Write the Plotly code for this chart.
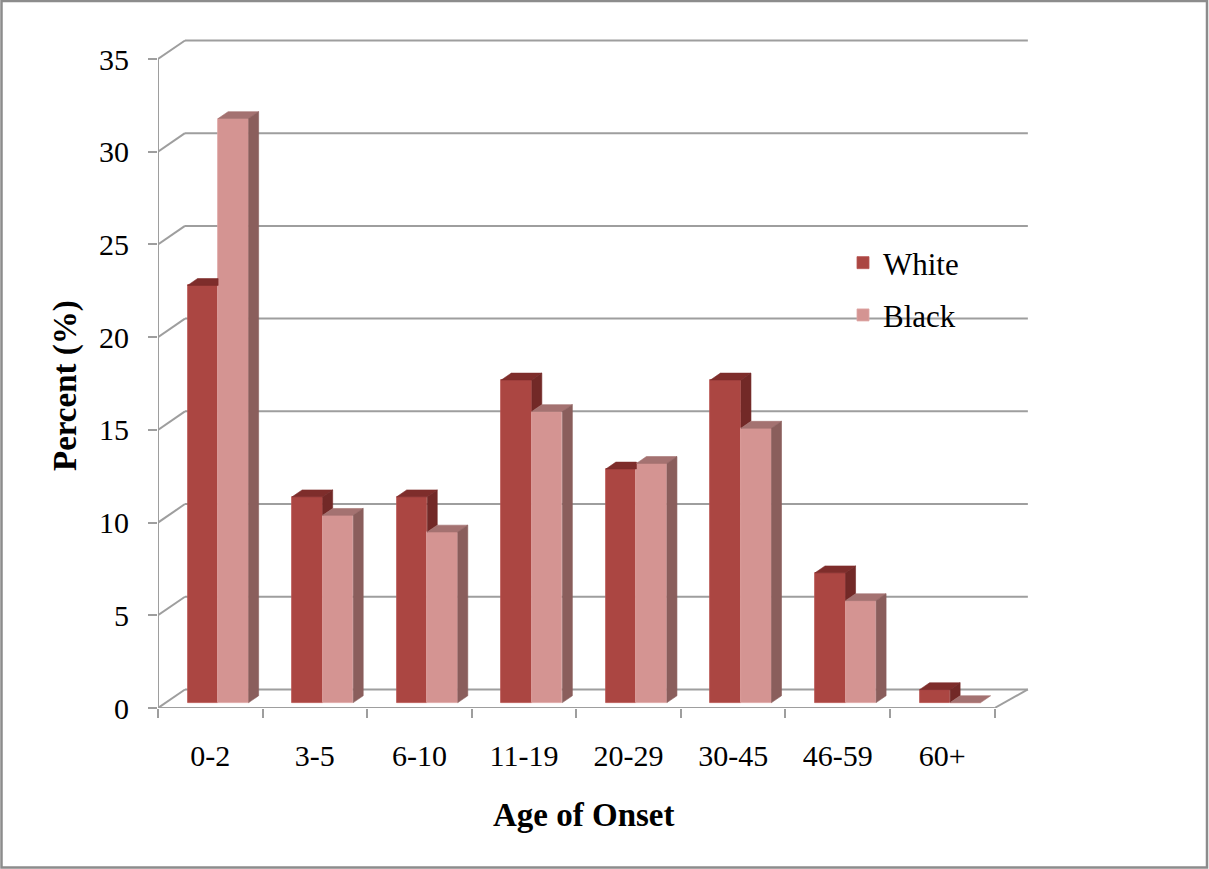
import plotly.graph_objects as go

# Age-of-onset distribution (%) by race
categories = ["0-2", "3-5", "6-10", "11-19", "20-29", "30-45", "46-59", "60+"]
white = [22.5, 11.1, 11.1, 17.4, 12.6, 17.4, 7.0, 0.7]
black = [31.5, 10.1, 9.2, 15.7, 12.9, 14.8, 5.5, 0.0]
y_ticks = [0, 5, 10, 15, 20, 25, 30, 35]

# pseudo-3D projection: how far the back wall is shifted (data units)
DX, DY = 0.258, 1.0
DX_RIGHT = 0.318             # perspective: right end recedes a little more
D0, D1 = 0.29, 0.66          # front / back depth of the bars
BW = 0.292                   # bar width
BD = D1 - D0
N = len(categories)

WHITE_FRONT, WHITE_TOP, WHITE_SIDE = "#AB4642", "#7E2D2B", "#722927"
BLACK_FRONT, BLACK_TOP, BLACK_SIDE = "#D49492", "#A47271", "#8A5E5C"
GRID = "#9E9E9E"
FONT = "Liberation Serif"

# pixel layout of the plotting area
PX_L, PX_R, PX_T, PX_B = 158, 1031, 37, 708
X_MAX = 8.0 + DX + 0.09
Y_MAX = (PX_B - PX_T) / ((PX_B - 59) / 35.0)


def px_x(p):
    return (p - PX_L) / (PX_R - PX_L)


def px_y(p):
    return (PX_B - p) / (PX_B - PX_T)


fig = go.Figure()

# front faces of the bars
fig.add_trace(go.Bar(
    name="White", x=[i + 0.5 - BW / 2 + D0 * DX for i in range(N)], y=white,
    base=D0 * DY, width=BW, marker=dict(color=WHITE_FRONT, line=dict(width=0.8, color="#B85451")),
    legendgroup="w", hoverinfo="skip"))
fig.add_trace(go.Bar(
    name="Black", x=[i + 0.5 + BW / 2 + D0 * DX for i in range(N)], y=black,
    base=D0 * DY, width=BW, marker=dict(color=BLACK_FRONT, line=dict(width=0.8, color="#DEA6A4")),
    legendgroup="b", hoverinfo="skip"))


def poly_trace(xs, ys, color):
    return go.Scatter(x=xs, y=ys, mode="lines", fill="toself", fillcolor=color,
                      line=dict(width=0.6, color=color), showlegend=False,
                      hoverinfo="skip")


# top and side faces
wt_x, wt_y, ws_x, ws_y = [], [], [], []
bt_x, bt_y, bs_x, bs_y = [], [], [], []
for i in range(N):
    vw, vb = white[i], black[i]
    base = D0 * DY
    # white bar
    xl = i + 0.5 - BW + D0 * DX
    xr = xl + BW
    yt = vw + base
    if vb > vw:
        # right part of the white top is hidden by the taller black bar
        wt_x += [xl, xr, xr, xl + BD * DX, xl, None]
        wt_y += [yt, yt, yt + BD * DY, yt + BD * DY, yt, None]
    else:
        wt_x += [xl, xr, xr + BD * DX, xl + BD * DX, xl, None]
        wt_y += [yt, yt, yt + BD * DY, yt + BD * DY, yt, None]
        lo = vb + base
        ws_x += [xr, xr, xr + BD * DX, xr + BD * DX, xr, None]
        ws_y += [lo, yt, yt + BD * DY, lo + BD * DY, lo, None]
    # black bar
    xl2 = xr
    xr2 = xl2 + BW
    yt2 = vb + base
    bt_x += [xl2, xr2, xr2 + BD * DX, xl2 + BD * DX, xl2, None]
    bt_y += [yt2, yt2, yt2 + BD * DY, yt2 + BD * DY, yt2, None]
    if vb > 0:
        bs_x += [xr2, xr2, xr2 + BD * DX, xr2 + BD * DX, xr2, None]
        bs_y += [base, yt2, yt2 + BD * DY, base + BD * DY, base, None]

fig.add_trace(poly_trace(wt_x, wt_y, WHITE_TOP))
fig.add_trace(poly_trace(ws_x, ws_y, WHITE_SIDE))
fig.add_trace(poly_trace(bt_x, bt_y, BLACK_TOP))
fig.add_trace(poly_trace(bs_x, bs_y, BLACK_SIDE))

# walls and floor
shapes = []
line = dict(color=GRID, width=2)
for v in y_ticks:
    shapes.append(dict(type="line", xref="x", yref="y", x0=0, y0=v, x1=DX, y1=v + DY,
                       line=line, layer="below"))
    shapes.append(dict(type="line", xref="x", yref="y", x0=DX, y0=v + DY, x1=N + DX_RIGHT, y1=v + DY,
                       line=line, layer="below"))
shapes.append(dict(type="line", xref="x", yref="y", x0=0, y0=0, x1=N, y1=0, line=line, layer="below"))
shapes.append(dict(type="line", xref="x", yref="y", x0=N, y0=0, x1=N + DX_RIGHT, y1=DY, line=line, layer="below"))
shapes.append(dict(type="line", xref="x", yref="y", x0=0, y0=0, x1=0, y1=y_ticks[-1], line=line, layer="below"))
# outer frame
shapes.append(dict(type="rect", xref="paper", yref="paper",
                   x0=px_x(1.5), x1=px_x(1207), y0=px_y(867.5), y1=px_y(1),
                   line=dict(color="#8C8C8C", width=2.5), layer="above"))

fig.update_layout(
    width=1209, height=869,
    margin=dict(l=PX_L, r=1209 - PX_R, t=PX_T, b=869 - PX_B),
    paper_bgcolor="white", plot_bgcolor="white",
    barmode="overlay", bargap=0,
    shapes=shapes,
    font=dict(family=FONT, color="black", size=30),
    showlegend=True,
    legend=dict(x=px_x(843), y=px_y(236), xanchor="left", yanchor="top",
                font=dict(family=FONT, size=31, color="black"),
                bgcolor="rgba(0,0,0,0)", tracegroupgap=9, traceorder="grouped"),
    xaxis=dict(range=[0, X_MAX], showgrid=False, zeroline=False, showline=False,
               tickmode="array", tickvals=[i + 0.5 for i in range(N)], ticktext=categories,
               ticks="", ticklabelstandoff=27,
               tickfont=dict(family=FONT, size=30, color="black"),
               minor=dict(tick0=0, dtick=1, ticks="outside", ticklen=9, tickwidth=2, tickcolor=GRID),
               fixedrange=True),
    yaxis=dict(range=[0, Y_MAX], showgrid=False, zeroline=False, showline=False,
               tickmode="array", tickvals=y_ticks, ticks="outside", ticklen=9,
               tickwidth=2, tickcolor=GRID, ticklabelstandoff=13,
               tickfont=dict(family=FONT, size=30, color="black"), fixedrange=True),
    annotations=[
        dict(text="<b>Age of Onset</b>", xref="paper", yref="paper", x=px_x(583), y=px_y(815),
             xanchor="center", yanchor="middle", showarrow=False,
             font=dict(family=FONT, size=33, color="black")),
        dict(text="<b>Percent (%)</b>", xref="paper", yref="paper", x=px_x(65), y=px_y(386),
             xanchor="center", yanchor="middle", showarrow=False, textangle=-90,
             font=dict(family=FONT, size=33, color="black")),
    ],
)

fig.write_html("out.html")
